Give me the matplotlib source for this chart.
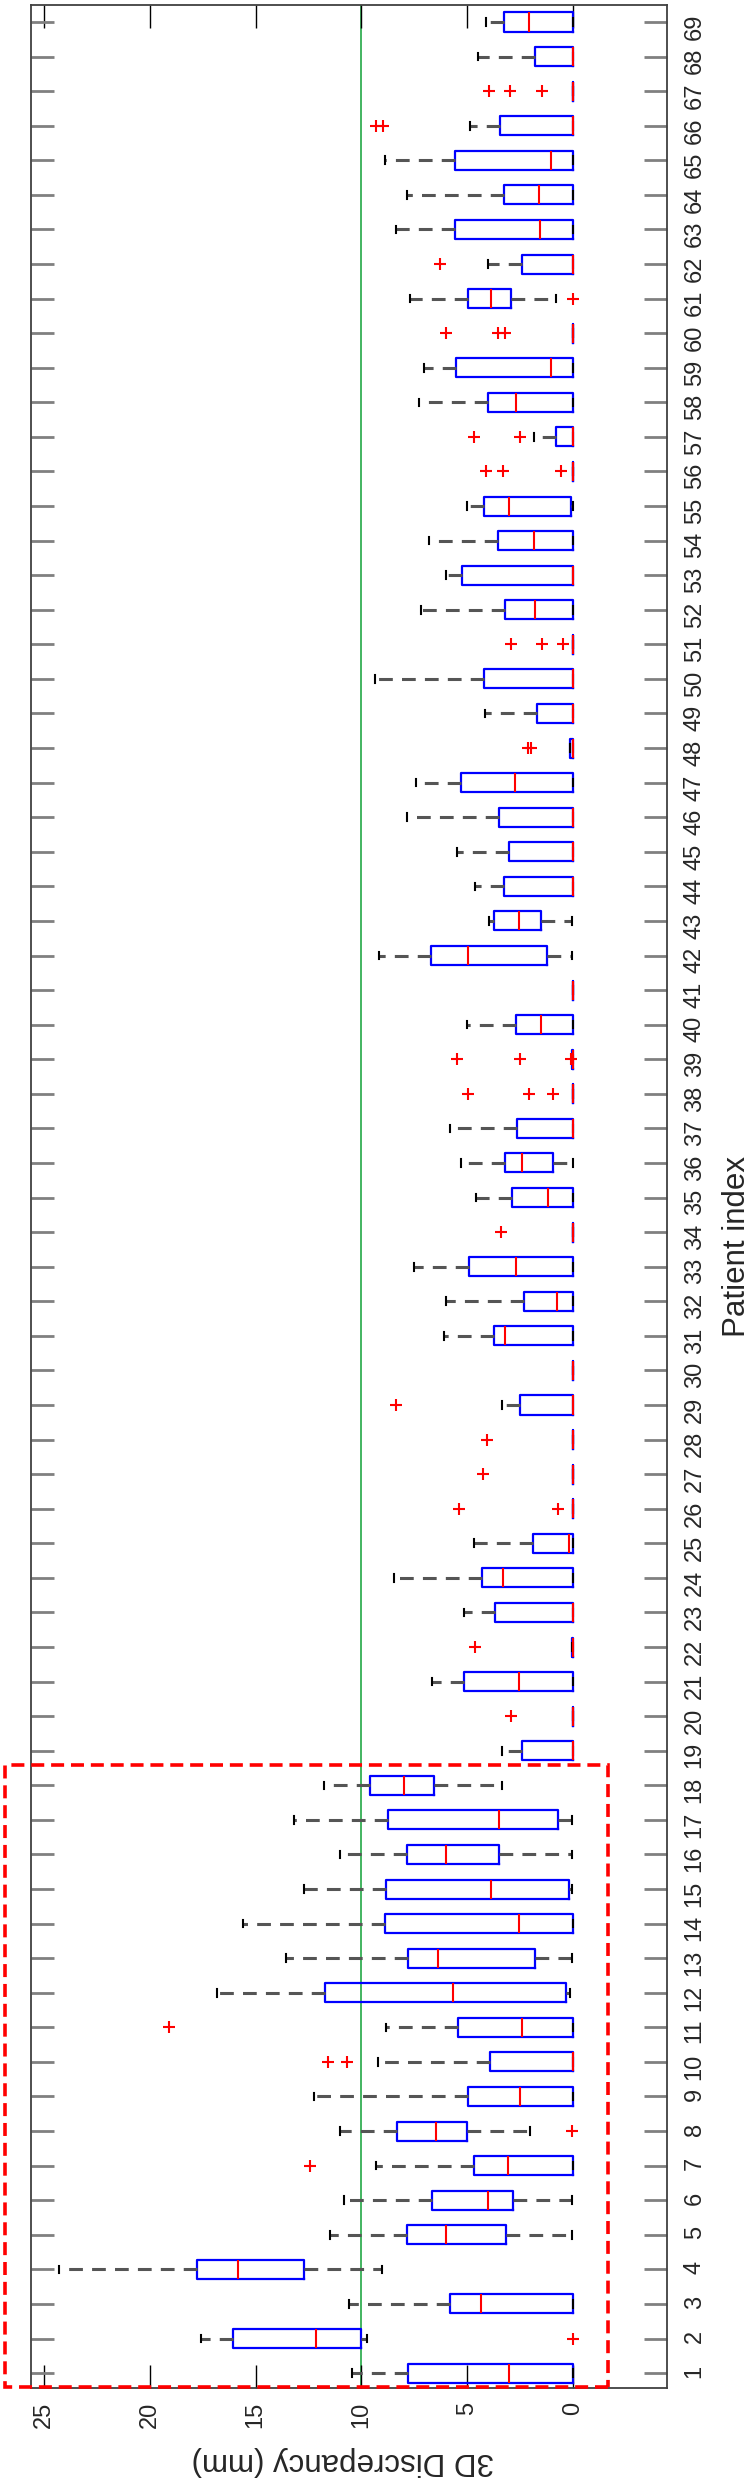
import matplotlib

matplotlib.use("Agg")

import matplotlib.pyplot as plt
from matplotlib.patches import Rectangle

plt.rcParams["font.family"] = ["Liberation Sans", "DejaVu Sans"]

# per-patient box statistics, discrepancy in mm (patients 1..69)
patients = list(range(1, 70))
whisk_lo = [0, 9.75, 0, 9.03, 0.05, 0.05, 0, 2.04, 0, 0,
            0, 0.15, 0.05, 0, 0.05, 0.05, 0.05, 3.37, 0, 0,
            0, 0, 0, 0, 0, 0, 0, 0, 0, 0,
            0, 0, 0, 0, 0, 0, 0, 0, 0, 0,
            0, 0.05, 0.05, 0, 0, 0, 0, 0, 0, 0,
            0, 0, 0, 0, 0, 0, 0, 0, 0, 0,
            0.79, 0, 0, 0, 0, 0, 0, 0, 0]
q1 = [0, 10.02, 0, 12.69, 3.17, 2.83, 0, 5.02, 0, 0,
      0, 0.34, 1.79, 0, 0.2, 3.51, 0.72, 6.56, 0, 0,
      0, 0, 0, 0, 0, 0, 0, 0, 0, 0,
      0, 0, 0, 0, 0, 0.94, 0, 0, 0, 0,
      0, 1.24, 1.52, 0, 0, 0, 0, 0, 0, 0,
      0, 0, 0, 0, 0.09, 0, 0, 0, 0, 0,
      2.92, 0, 0, 0, 0, 0, 0, 0, 0]
median = [3.05, 12.15, 4.34, 15.84, 6.0, 4.0, 3.1, 6.47, 2.49, 0,
          2.42, 5.66, 6.38, 2.58, 3.89, 6.0, 3.51, 8.0, 0, 0,
          2.58, 0, 0, 3.33, 0.2, 0, 0, 0, 0, 0,
          3.21, 0.75, 2.7, 0, 1.2, 2.4, 0, 0, 0, 1.52,
          0, 4.95, 2.58, 0, 0, 0, 2.76, 0, 0, 0,
          0, 1.79, 0, 1.86, 3.03, 0, 0, 2.69, 1.06, 0,
          3.89, 0, 1.56, 1.63, 1.06, 0, 0, 0, 2.08]
q3 = [7.78, 16.04, 5.81, 17.76, 7.87, 6.65, 4.68, 8.3, 4.95, 3.91,
      5.43, 11.74, 7.78, 8.91, 8.85, 7.87, 8.73, 9.59, 2.42, 0,
      5.14, 0.05, 3.71, 4.3, 1.9, 0, 0, 0, 2.49, 0,
      3.73, 2.3, 4.9, 0, 2.9, 3.2, 2.65, 0, 0.05, 2.69,
      0, 6.72, 3.73, 3.28, 3.05, 3.51, 5.32, 0.15, 1.72, 4.19,
      0, 3.21, 5.25, 3.55, 4.19, 0, 0.79, 4.0, 5.52, 0,
      4.98, 2.42, 5.59, 3.28, 5.59, 3.44, 0, 1.81, 3.28]
whisk_hi = [10.45, 17.58, 10.57, 24.3, 11.47, 10.8, 9.32, 11.02, 12.24, 9.2,
            8.85, 16.8, 13.55, 15.6, 12.7, 11.0, 13.2, 11.76, 3.37, 0,
            6.67, 0.05, 5.14, 8.46, 4.68, 0, 0, 0, 3.37, 0,
            6.09, 6.0, 7.5, 0, 4.6, 5.3, 5.8, 0, 0.05, 5.02,
            0, 9.16, 3.96, 4.62, 5.48, 7.85, 7.4, 0.15, 4.16, 9.37,
            0, 7.17, 6.0, 6.79, 5.02, 0, 1.85, 7.28, 7.06, 0,
            7.69, 4.0, 8.35, 7.85, 8.91, 4.86, 0, 4.5, 4.12]
outliers = {
    2: [0.0], 7: [12.42], 8: [0.05], 10: [10.66, 11.56], 11: [19.1],
    20: [2.94], 22: [4.62], 26: [5.41, 0.72], 27: [4.28], 28: [4.05],
    29: [8.35], 34: [3.4], 38: [4.98, 2.08, 0.95], 39: [5.48, 2.53, 0.1],
    48: [2.0, 2.15], 51: [2.94, 1.47, 0.5], 56: [4.12, 3.33, 0.57],
    57: [4.68, 2.49], 60: [6.0, 3.55, 3.21], 61: [0.0], 62: [6.27],
    66: [9.32, 8.98], 67: [3.96, 2.99, 1.47],
}
threshold = 10.0

stats = []
for i, p in enumerate(patients):
    stats.append(dict(whislo=whisk_lo[i], q1=q1[i], med=median[i], q3=q3[i],
                      whishi=whisk_hi[i], fliers=outliers.get(p, [])))

fig = plt.figure(figsize=(7.51, 24.81), dpi=100)
ax = fig.add_axes([0.0413, 0.0375, 0.8469, 0.9606])

ax.axvline(threshold, color="#22a845", linewidth=1.2, zorder=1)

ax.bxp(
    stats,
    positions=patients,
    widths=0.55,
    capwidths=0.22,
    orientation="horizontal",
    boxprops=dict(color="#0000ff", linewidth=1.6),
    medianprops=dict(color="#ff0000", linewidth=1.5),
    whiskerprops=dict(color="#555555", linewidth=2.2, linestyle=(0, (4.5, 3))),
    capprops=dict(color="black", linewidth=1.5),
    flierprops=dict(marker="+", markeredgecolor="#ff0000", markersize=9,
                    markeredgewidth=1.5, linestyle="none"),
)

ax.set_xlim(25.6, -4.43)
ax.set_ylim(0.57, 69.5)
ax.set_xticks([0, 5, 10, 15, 20, 25])
ax.set_yticks(patients)
ax.set_yticklabels([str(p) for p in patients])

ax.tick_params(axis="x", direction="in", length=16.5, width=1, color="black",
               top=True, bottom=True, labelsize=17, labelrotation=90, pad=10,
               labelcolor="#262626")
ax.tick_params(axis="y", direction="in", length=16.5, width=2, color="#808080",
               left=True, right=True, labelleft=False, labelright=True,
               labelsize=17, labelrotation=90, pad=12, labelcolor="#262626")

for spine in ax.spines.values():
    spine.set_color("#404040")
    spine.set_linewidth(1.3)

ax.set_xlabel("3D Discrepancy (mm)", fontsize=22.5, rotation=180, color="#262626")
ax.xaxis.set_label_coords(0.49, -0.0306)
ax.xaxis.label.set_va("center")
ax.set_ylabel("Patient index", fontsize=22.5, rotation=90, color="#262626")
ax.yaxis.set_label_position("right")
ax.yaxis.set_label_coords(1.110, 0.479)
ax.yaxis.label.set_va("center")

# highlighted group of patients 1-18
ax.add_patch(Rectangle((-1.65, 0.6), 28.5, 18.0, fill=False, edgecolor="#ff0000",
                       linewidth=2.6, linestyle=(0, (3.6, 1.9)), clip_on=False, zorder=6))

fig.savefig("out.png", dpi=100)
plt.close(fig)
